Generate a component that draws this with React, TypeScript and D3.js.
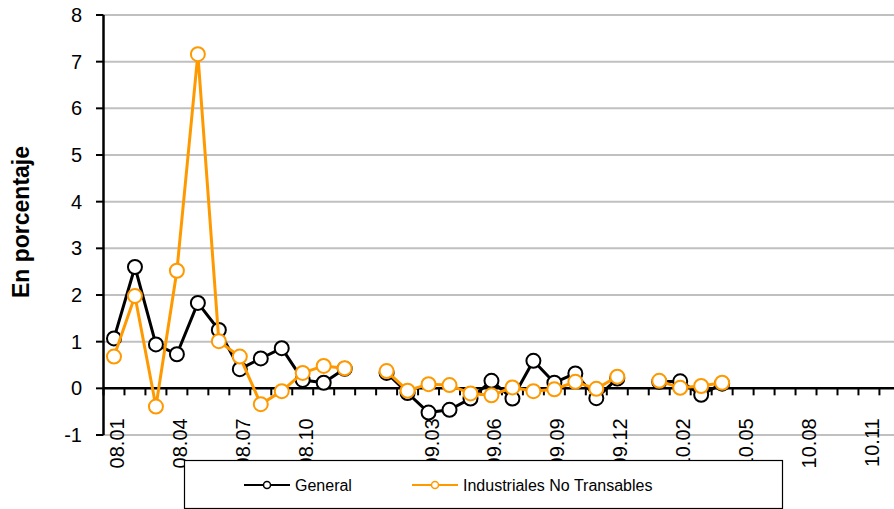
import React from "react";
import * as d3 from "d3";

const categories: string[] = [
  "08.01", "08.02", "08.03", "08.04", "08.05", "08.06", "08.07", "08.08", "08.09", "08.10", "08.11", "08.12",
  "",
  "09.01", "09.02", "09.03", "09.04", "09.05", "09.06", "09.07", "09.08", "09.09", "09.10", "09.11", "09.12",
  " ",
  "10.01", "10.02", "10.03", "10.04", "10.05", "10.06", "10.07", "10.08", "10.09", "10.10", "10.11", "10.12",
];

const general: (number | null)[] = [
  1.07, 2.6, 0.94, 0.73, 1.83, 1.25, 0.41, 0.64, 0.86, 0.18, 0.12, 0.42,
  null,
  0.33, -0.1, -0.52, -0.46, -0.22, 0.16, -0.22, 0.59, 0.12, 0.32, -0.21, 0.21,
  null,
  0.14, 0.15, -0.14, 0.1, null, null, null, null, null, null, null, null,
];

const industriales: (number | null)[] = [
  0.68, 1.98, -0.39, 2.52, 7.16, 1.01, 0.68, -0.34, -0.06, 0.33, 0.48, 0.43,
  null,
  0.37, -0.05, 0.09, 0.07, -0.11, -0.15, 0.02, -0.06, -0.02, 0.14, -0.01, 0.25,
  null,
  0.16, 0.01, 0.05, 0.12, null, null, null, null, null, null, null, null,
];

const yTicks: number[] = [-1, 0, 1, 2, 3, 4, 5, 6, 7, 8];
const labelEvery = 3;

const seriesNames = ["General", "Industriales No Transables"];
const seriesColors = ["#000000", "#FF9900"];

export default function App() {
  const W = 894;
  const H = 509;
  const x0 = 103.5;
  const x1 = 900.4;
  const x = d3.scaleBand<string>().domain(categories).range([x0, x1]).padding(0);
  const y = d3.scaleLinear().domain([-1, 8]).range([435, 15]);
  const cx = (i: number) => (x(categories[i]) as number) + x.bandwidth() / 2;

  const line = d3
    .line<number | null>()
    .defined((d) => d !== null)
    .x((_, i) => cx(i))
    .y((d) => y(d as number));

  const series = [general, industriales];
  const font = "'Liberation Sans', Arial, sans-serif";
  const boundaries = d3.range(categories.length + 1).map((i) => x0 + i * x.bandwidth());

  return (
    <svg
      width={W}
      height={H}
      style={{ position: "absolute", left: 0, top: 0, display: "block", background: "#fff" }}
      fontFamily={font}
    >
      {/* gridlines */}
      {yTicks.map((t) =>
        t === 0 ? null : (
          <line key={"g" + t} x1={x0} x2={W} y1={y(t)} y2={y(t)} stroke="#C0C0C0" strokeWidth={2} />
        )
      )}
      {/* y axis */}
      <line x1={x0} x2={x0} y1={y(8)} y2={y(-1)} stroke="#000" strokeWidth={2.5} />
      {yTicks.map((t) => (
        <g key={"yt" + t}>
          <line x1={96} x2={x0} y1={y(t)} y2={y(t)} stroke="#000" strokeWidth={2} />
          <text x={82} y={y(t)} dy="0.35em" textAnchor="end" fontSize={20} fill="#000">
            {t}
          </text>
        </g>
      ))}
      {/* x axis at 0 */}
      <line x1={x0} x2={W} y1={y(0)} y2={y(0)} stroke="#000" strokeWidth={2.5} />
      {boundaries.map((b, i) => (
        <line key={"xt" + i} x1={b} x2={b} y1={y(0)} y2={y(0) + 7} stroke="#000" strokeWidth={2} />
      ))}
      {categories.map((c, i) =>
        i % labelEvery === 0 && c.trim() !== "" ? (
          <text
            key={"xl" + i}
            transform={`translate(${cx(i) + 3},${y(0) + 30}) rotate(-90)`}
            dy="0.35em"
            textAnchor="end"
            fontSize={20}
            fill="#000"
          >
            {c}
          </text>
        ) : null
      )}
      {/* y title */}
      <text
        transform={`translate(29,222) rotate(-90)`}
        textAnchor="middle"
        fontSize={23}
        fontWeight="bold"
        fill="#000"
      >
        En porcentaje
      </text>
      {/* series */}
      {series.map((s, si) => (
        <g key={"s" + si}>
          <path d={line(s) || ""} fill="none" stroke={seriesColors[si]} strokeWidth={3} strokeLinejoin="round" />
          {s.map((v, i) =>
            v === null ? null : (
              <circle key={i} cx={cx(i)} cy={y(v)} r={7} fill="#fff" stroke={seriesColors[si]} strokeWidth={2} />
            )
          )}
        </g>
      ))}
      {/* legend */}
      <rect x={184.5} y={460.5} width={598} height={48} fill="#fff" stroke="#000" strokeWidth={1.2} />
      {seriesNames.map((n, i) => {
        const lx = i === 0 ? 244 : 412;
        return (
          <g key={"lg" + i}>
            <line x1={lx} x2={lx + 46} y1={485} y2={485} stroke={seriesColors[i]} strokeWidth={2} />
            <circle cx={lx + 23} cy={485} r={3.5} fill="#fff" stroke={seriesColors[i]} strokeWidth={1.5} />
            <text x={lx + 51} y={485} dy="0.36em" fontSize={16} fill="#000">
              {n}
            </text>
          </g>
        );
      })}
    </svg>
  );
}
